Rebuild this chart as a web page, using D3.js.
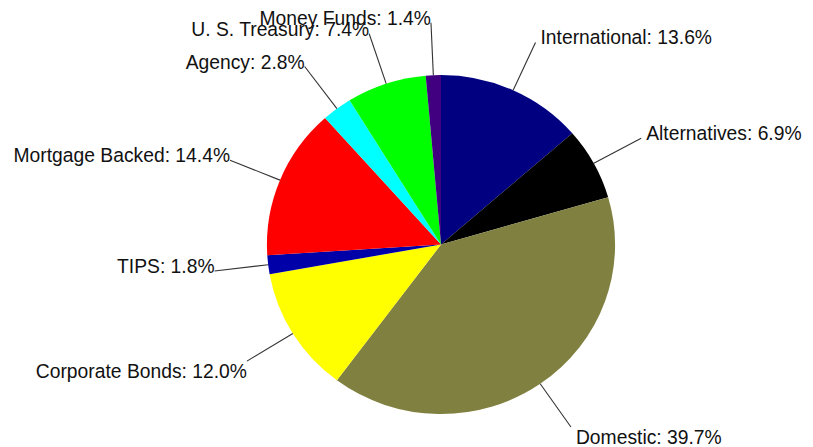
<!DOCTYPE html>
<html>
<head>
<meta charset="utf-8">
<script src="https://cdn.jsdelivr.net/npm/d3@7"></script>
<style>
  html, body { margin: 0; padding: 0; background: #fff; }
  svg { display: block; }
</style>
</head>
<body>
<svg id="chart" width="813" height="447"></svg>
<script>
const categories = ["International", "Alternatives", "Domestic", "Corporate Bonds", "TIPS",
                    "Mortgage Backed", "Agency", "U. S. Treasury", "Money Funds"];
const values = [13.6, 6.9, 39.7, 12.0, 1.8, 14.4, 2.8, 7.4, 1.4];
const colors = ["#000080", "#000000", "#808040", "#ffff00", "#0000a8",
                "#ff0000", "#00ffff", "#00ff00", "#400080"];

const W = 813, H = 447;
const cx = 441, cy = 244.5;
const R = 169.5;          // vertical radius
const sx = 1.027;         // slight horizontal stretch of the original picture
const labelR = 1.31;      // label anchor radius as a fraction of R

const svg = d3.select("#chart");
const g = svg.append("g").attr("transform", `translate(${cx},${cy}) scale(${sx},1)`);

const data = categories.map((c, i) => ({ name: c, value: values[i], color: colors[i] }));

const pie = d3.pie().sort(null).value(d => d.value).startAngle(0).endAngle(2 * Math.PI);
const arc = d3.arc().innerRadius(0).outerRadius(R);
const arcs = pie(data);

g.selectAll("path.slice")
  .data(arcs)
  .join("path")
  .attr("class", "slice")
  .attr("d", arc)
  .attr("fill", d => d.data.color);

function mid(d) { return (d.startAngle + d.endAngle) / 2; }

g.selectAll("line.leader")
  .data(arcs)
  .join("line")
  .attr("class", "leader")
  .attr("x1", d => Math.sin(mid(d)) * R)
  .attr("y1", d => -Math.cos(mid(d)) * R)
  .attr("x2", d => Math.sin(mid(d)) * R * labelR)
  .attr("y2", d => -Math.cos(mid(d)) * R * labelR)
  .attr("stroke", "#333")
  .attr("stroke-width", 1.1)
  .attr("vector-effect", "non-scaling-stroke");

g.selectAll("text.label")
  .data(arcs)
  .join("text")
  .attr("class", "label")
  .attr("transform", d => {
    const a = mid(d);
    const x = Math.sin(a) * R * labelR + (Math.sin(a) >= 0 ? 5 / sx : 0);
    const y = -Math.cos(a) * R * labelR + (Math.cos(a) < -0.3 ? 17 : 2);
    return `translate(${x},${y}) scale(${1 / sx},1)`;
  })
  .attr("text-anchor", d => Math.sin(mid(d)) >= 0 ? "start" : "end")
  .attr("font-family", "'Liberation Sans', Arial, sans-serif")
  .attr("font-size", "19.3px")
  .attr("fill", "#111")
  .text(d => `${d.data.name}: ${d3.format(".1f")(d.data.value)}%`);
</script>
</body>
</html>
